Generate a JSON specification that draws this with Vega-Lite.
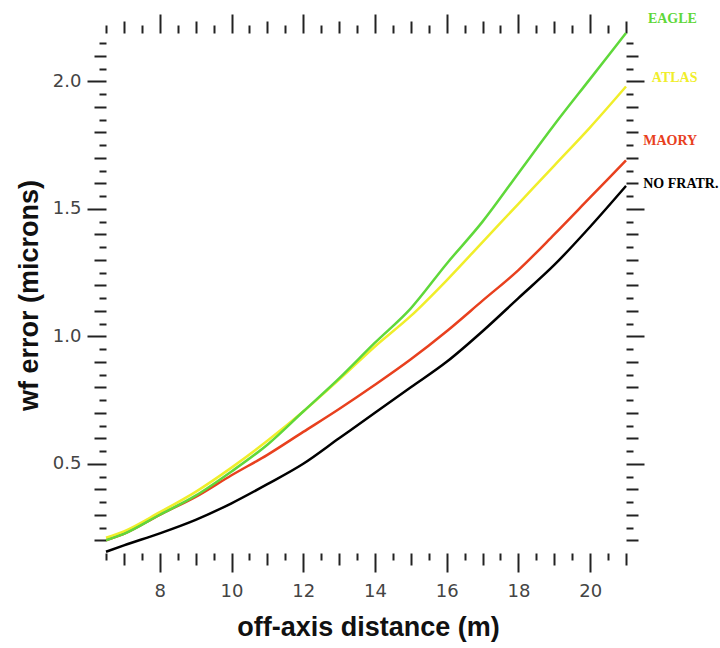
{
  "$schema": "https://vega.github.io/schema/vega-lite/v6.json",
  "width": 520,
  "height": 520,
  "autosize": "none",
  "padding": {"left": 106, "top": 33, "right": 94, "bottom": 95},
  "background": "white",
  "config": {"view": {"stroke": null}},
  "datasets": {
    "lines": [
      {"series": "NO FRATR.", "x": 6.5, "y": 0.155},
      {"series": "NO FRATR.", "x": 7, "y": 0.18},
      {"series": "NO FRATR.", "x": 8, "y": 0.227},
      {"series": "NO FRATR.", "x": 9, "y": 0.28},
      {"series": "NO FRATR.", "x": 10, "y": 0.345},
      {"series": "NO FRATR.", "x": 11, "y": 0.42},
      {"series": "NO FRATR.", "x": 12, "y": 0.5},
      {"series": "NO FRATR.", "x": 13, "y": 0.6},
      {"series": "NO FRATR.", "x": 14, "y": 0.7},
      {"series": "NO FRATR.", "x": 15, "y": 0.8},
      {"series": "NO FRATR.", "x": 16, "y": 0.9},
      {"series": "NO FRATR.", "x": 17, "y": 1.02},
      {"series": "NO FRATR.", "x": 18, "y": 1.15},
      {"series": "NO FRATR.", "x": 19, "y": 1.28},
      {"series": "NO FRATR.", "x": 20, "y": 1.43},
      {"series": "NO FRATR.", "x": 21, "y": 1.59},
      {"series": "MAORY", "x": 6.5, "y": 0.2},
      {"series": "MAORY", "x": 7, "y": 0.225},
      {"series": "MAORY", "x": 8, "y": 0.3},
      {"series": "MAORY", "x": 9, "y": 0.37},
      {"series": "MAORY", "x": 10, "y": 0.455},
      {"series": "MAORY", "x": 11, "y": 0.535},
      {"series": "MAORY", "x": 12, "y": 0.625},
      {"series": "MAORY", "x": 13, "y": 0.715},
      {"series": "MAORY", "x": 14, "y": 0.81},
      {"series": "MAORY", "x": 15, "y": 0.91},
      {"series": "MAORY", "x": 16, "y": 1.02},
      {"series": "MAORY", "x": 17, "y": 1.14},
      {"series": "MAORY", "x": 18, "y": 1.26},
      {"series": "MAORY", "x": 19, "y": 1.4},
      {"series": "MAORY", "x": 20, "y": 1.545},
      {"series": "MAORY", "x": 21, "y": 1.69},
      {"series": "ATLAS", "x": 6.5, "y": 0.21},
      {"series": "ATLAS", "x": 7, "y": 0.235},
      {"series": "ATLAS", "x": 8, "y": 0.31},
      {"series": "ATLAS", "x": 9, "y": 0.39},
      {"series": "ATLAS", "x": 10, "y": 0.485},
      {"series": "ATLAS", "x": 11, "y": 0.59},
      {"series": "ATLAS", "x": 12, "y": 0.705},
      {"series": "ATLAS", "x": 13, "y": 0.83},
      {"series": "ATLAS", "x": 14, "y": 0.96},
      {"series": "ATLAS", "x": 15, "y": 1.08},
      {"series": "ATLAS", "x": 16, "y": 1.22},
      {"series": "ATLAS", "x": 17, "y": 1.37},
      {"series": "ATLAS", "x": 18, "y": 1.52},
      {"series": "ATLAS", "x": 19, "y": 1.67},
      {"series": "ATLAS", "x": 20, "y": 1.82},
      {"series": "ATLAS", "x": 21, "y": 1.98},
      {"series": "EAGLE", "x": 6.5, "y": 0.2},
      {"series": "EAGLE", "x": 7, "y": 0.225},
      {"series": "EAGLE", "x": 8, "y": 0.3},
      {"series": "EAGLE", "x": 9, "y": 0.375},
      {"series": "EAGLE", "x": 10, "y": 0.47},
      {"series": "EAGLE", "x": 11, "y": 0.575},
      {"series": "EAGLE", "x": 12, "y": 0.705},
      {"series": "EAGLE", "x": 13, "y": 0.835},
      {"series": "EAGLE", "x": 14, "y": 0.975},
      {"series": "EAGLE", "x": 15, "y": 1.11},
      {"series": "EAGLE", "x": 16, "y": 1.285},
      {"series": "EAGLE", "x": 17, "y": 1.45},
      {"series": "EAGLE", "x": 18, "y": 1.64},
      {"series": "EAGLE", "x": 19, "y": 1.83},
      {"series": "EAGLE", "x": 20, "y": 2.01},
      {"series": "EAGLE", "x": 21, "y": 2.19}
    ],
    "labels": [
      {"series": "EAGLE", "lx": 21.61, "ly": 2.244},
      {"series": "ATLAS", "lx": 21.72, "ly": 2.015},
      {"series": "MAORY", "lx": 21.48, "ly": 1.767},
      {"series": "NO FRATR.", "lx": 21.48, "ly": 1.597}
    ]
  },
  "resolve": {"axis": {"x": "independent", "y": "independent"}},
  "layer": [
    {
      "data": {"name": "lines"},
      "mark": {"type": "line", "strokeWidth": 2.5, "interpolate": "monotone", "clip": false},
      "encoding": {
        "x": {
          "field": "x", "type": "quantitative",
          "scale": {"domain": [6.5, 21], "nice": false, "zero": false},
          "axis": {
            "orient": "bottom",
            "values": [6.5, 7, 7.5, 8, 8.5, 9, 9.5, 10, 10.5, 11, 11.5, 12, 12.5, 13, 13.5, 14, 14.5, 15, 15.5, 16, 16.5, 17, 17.5, 18, 18.5, 19, 19.5, 20, 20.5, 21],
            "domain": false, "grid": false,
            "tickSize": {"condition": [{"test": "datum.value % 2 === 0", "value": 19}, {"test": "datum.value % 1 === 0", "value": 12}], "value": 7},
            "tickWidth": 2, "tickColor": "#222",
            "labelExpr": "datum.value % 2 === 0 ? format(datum.value, 'd') : ''",
            "labelFont": "DejaVu Sans", "labelFontSize": 18, "labelColor": "#444",
            "labelPadding": 10, "labelOverlap": false, "labelFlush": false, "labelBound": false,
            "title": "off-axis distance (m)",
            "titleFont": "Liberation Sans", "titleFontSize": 27, "titleFontWeight": "bold", "titleColor": "#111",
            "titleX": 262, "titleY": 82, "titleBaseline": "alphabetic", "titleAlign": "center"
          }
        },
        "y": {
          "field": "y", "type": "quantitative",
          "scale": {"domain": [0.15, 2.19], "nice": false, "zero": false},
          "axis": {
            "orient": "left",
            "values": [0.2, 0.25, 0.3, 0.35, 0.4, 0.45, 0.5, 0.55, 0.6, 0.65, 0.7, 0.75, 0.8, 0.85, 0.9, 0.95, 1.0, 1.05, 1.1, 1.15, 1.2, 1.25, 1.3, 1.35, 1.4, 1.45, 1.5, 1.55, 1.6, 1.65, 1.7, 1.75, 1.8, 1.85, 1.9, 1.95, 2.0, 2.05, 2.1, 2.15],
            "domain": false, "grid": false,
            "tickSize": {"condition": [{"test": "round(datum.value * 20) % 10 === 0", "value": 19}, {"test": "round(datum.value * 20) % 2 === 0", "value": 12}], "value": 7},
            "tickWidth": 2, "tickColor": "#222",
            "labelExpr": "round(datum.value * 20) % 10 === 0 ? format(datum.value, '.1f') : ''",
            "labelFont": "DejaVu Sans", "labelFontSize": 18, "labelColor": "#444",
            "labelPadding": 6, "labelOverlap": false, "labelFlush": false, "labelBound": false,
            "title": "wf error (microns)",
            "titleFont": "Liberation Sans", "titleFontSize": 27, "titleFontWeight": "bold", "titleColor": "#111",
            "titleX": -69, "titleY": 262, "titleBaseline": "alphabetic", "titleAlign": "center", "titleAngle": -90
          }
        },
        "color": {
          "field": "series", "type": "nominal",
          "scale": {"domain": ["EAGLE", "ATLAS", "MAORY", "NO FRATR."], "range": ["#5fd83a", "#f0ee2a", "#e8401e", "#000000"]},
          "legend": null
        }
      }
    },
    {
      "data": {"name": "labels"},
      "mark": {"type": "text", "align": "left", "baseline": "middle", "font": "Liberation Serif", "fontWeight": "bold", "fontSize": 14, "clip": false},
      "encoding": {
        "x": {
          "field": "lx", "type": "quantitative",
          "scale": {"domain": [6.5, 21], "nice": false, "zero": false},
          "axis": {
            "orient": "top",
            "values": [6.5, 7, 7.5, 8, 8.5, 9, 9.5, 10, 10.5, 11, 11.5, 12, 12.5, 13, 13.5, 14, 14.5, 15, 15.5, 16, 16.5, 17, 17.5, 18, 18.5, 19, 19.5, 20, 20.5, 21],
            "domain": false, "grid": false, "labels": false, "title": null,
            "tickSize": {"condition": [{"test": "datum.value % 2 === 0", "value": 19}, {"test": "datum.value % 1 === 0", "value": 12}], "value": 8},
            "tickWidth": 2, "tickColor": "#222"
          }
        },
        "y": {
          "field": "ly", "type": "quantitative",
          "scale": {"domain": [0.15, 2.19], "nice": false, "zero": false},
          "axis": {
            "orient": "right",
            "values": [0.2, 0.25, 0.3, 0.35, 0.4, 0.45, 0.5, 0.55, 0.6, 0.65, 0.7, 0.75, 0.8, 0.85, 0.9, 0.95, 1.0, 1.05, 1.1, 1.15, 1.2, 1.25, 1.3, 1.35, 1.4, 1.45, 1.5, 1.55, 1.6, 1.65, 1.7, 1.75, 1.8, 1.85, 1.9, 1.95, 2.0, 2.05, 2.1, 2.15],
            "domain": false, "grid": false, "labels": false, "title": null,
            "tickSize": {"condition": [{"test": "round(datum.value * 20) % 10 === 0", "value": 18}, {"test": "round(datum.value * 20) % 2 === 0", "value": 12}], "value": 7},
            "tickWidth": 2, "tickColor": "#222"
          }
        },
        "text": {"field": "series", "type": "nominal"},
        "color": {"field": "series", "type": "nominal", "legend": null}
      }
    }
  ]
}
